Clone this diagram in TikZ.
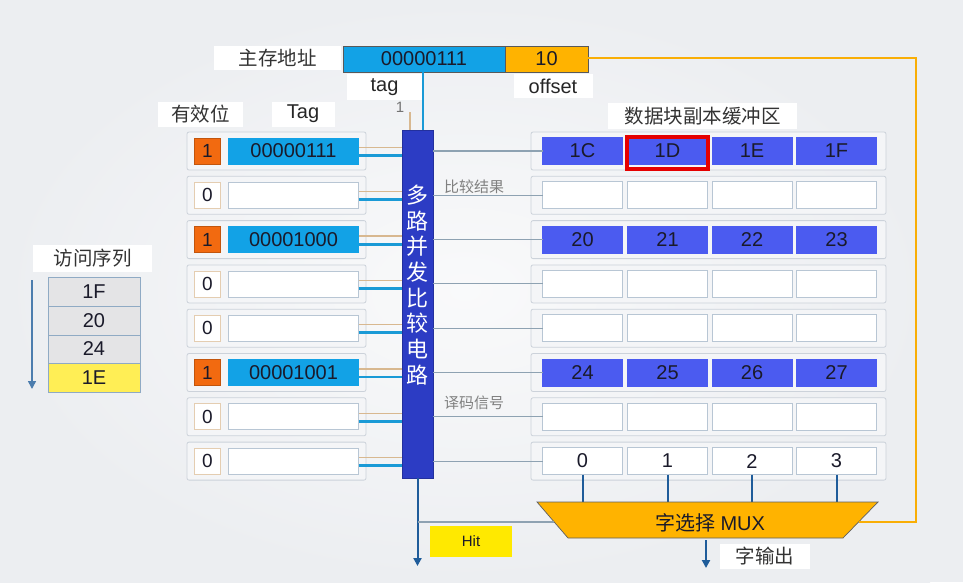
\documentclass[tikz,border=0pt]{standalone}
\usepackage{fontspec}
\setmainfont{Liberation Sans}
\newfontfamily\cjk{Noto Sans CJK SC}
\usetikzlibrary{arrows.meta,calc}
\definecolor{bgc}{HTML}{ECEEF1}
\definecolor{cyanb}{HTML}{12A2E6}
\definecolor{orangeA}{HTML}{FFB300}
\definecolor{validor}{HTML}{F26A10}
\definecolor{blockb}{HTML}{4B5BF0}
\definecolor{compb}{HTML}{2C3CC4}
\definecolor{wirec}{HTML}{1A9AD6}
\definecolor{tanc}{HTML}{D8B890}
\definecolor{grayw}{HTML}{8EA2B2}
\definecolor{cellb}{HTML}{B8C6D4}
\definecolor{rowfill}{HTML}{F4F5F7}
\definecolor{rowdraw}{HTML}{CCD2DA}
\definecolor{arrowc}{HTML}{1F5C9A}
\definecolor{txt}{HTML}{1A1A2A}
\definecolor{hity}{HTML}{FFE900}
\definecolor{seqy}{HTML}{FFEE55}
\definecolor{seqg}{HTML}{E4E4E6}
\definecolor{seqb}{HTML}{8FAAC4}
\tikzset{
  every node/.style={inner sep=0pt, outer sep=0pt},
  lbl/.style={fill=white, text=black!80, font=\cjk\fontsize{19.5}{19.5}\selectfont},
  lbllat/.style={fill=white, text=black!85, font=\fontsize{20}{20}\selectfont},
  rowbox/.style={rounded corners=2pt, fill=rowfill, draw=rowdraw, line width=0.8pt},
  v1/.style={fill=validor, draw=validor!80!black, line width=0.4pt, minimum width=26pt, minimum height=26pt, text=txt, font=\fontsize{19}{19}\selectfont},
  v0/.style={fill=white, draw=tanc!70, line width=0.8pt, minimum width=26pt, minimum height=26pt, text=txt, font=\fontsize{19}{19}\selectfont},
  t1/.style={fill=cyanb, draw=cyanb, minimum width=130pt, minimum height=26pt, text=txt, font=\fontsize{20}{20}\selectfont},
  t0/.style={fill=white, draw=cellb, line width=0.8pt, minimum width=130pt, minimum height=26pt},
  blk/.style={fill=blockb, draw=blockb, minimum width=80pt, minimum height=27pt, text=txt, font=\fontsize{20}{20}\selectfont},
  wcell/.style={fill=white, draw=cellb, line width=0.8pt, minimum width=80pt, minimum height=27pt, text=txt, font=\fontsize{20}{20}\selectfont},
  tanwire/.style={draw=tanc, line width=1.3pt},
  cyanwire/.style={draw=wirec, line width=2.8pt},
  graywire/.style={draw=grayw, line width=1.1pt},
  darkwire/.style={draw=arrowc, line width=2pt},
  seqcell/.style={fill=seqg, draw=seqb, line width=0.8pt, minimum width=92pt, minimum height=29pt, text=txt, font=\fontsize{20}{20}\selectfont},
  smallgray/.style={text=black!50, font=\cjk\fontsize{15}{15}\selectfont},
}
\begin{document}
\begin{tikzpicture}[x=1pt,y=-1pt]
\useasboundingbox (0,0) rectangle (963,582);
\fill[bgc] (0,0) rectangle (963,582);
\shade[inner color=white!70!bgc, outer color=bgc] (0,0) rectangle (930,582);

% main address
\node[lbl, minimum width=127pt, minimum height=24pt] (mainaddr) at (277.5,58) {主存地址};
\node[fill=cyanb, draw=gray!70!black, line width=0.6pt, minimum width=162pt, minimum height=26pt, text=txt, font=\fontsize{20}{20}\selectfont] (tagf) at (424,59) {00000111};
\node[fill=orangeA, draw=gray!70!black, line width=0.6pt, minimum width=83pt, minimum height=26pt, text=txt, font=\fontsize{20}{20}\selectfont, anchor=west] (offf) at (tagf.east) {10};
\node[lbllat, minimum width=75pt, minimum height=26pt] (taglbl) at (384.5,87) {tag};
\node[lbllat, minimum width=79pt, minimum height=24pt] (offlbl) at (553,86) {offset};

% headers
\node[lbl, minimum width=85pt, minimum height=25pt] (vh) at (200.5,114) {有效位};
\node[lbllat, minimum width=63pt, minimum height=25pt] (th) at (303,114) {Tag};
\node[lbl, minimum width=189pt, minimum height=26pt] (dh) at (702.5,116) {数据块副本缓冲区};

% comparator
\node[fill=compb, draw=compb!80!black, line width=0.6pt, minimum width=31pt, minimum height=348pt] (cmp) at (417.5,304) {};
\node[text=white, align=center, font=\cjk\fontsize{22}{25.7}\selectfont] (cmptxt) at (417.5,285) {多\\路\\并\\发\\比\\较\\电\\路};

% tag wire and "1"
\coordinate (tagdrop) at (423,72);
\draw[cyanwire] (tagdrop) -- (tagdrop |- cmp.north);
\node[text=black!55, font=\fontsize{15}{15}\selectfont] (one) at (400,107) {1};
\coordinate (onetop) at (410,112);
\draw[tanwire] (onetop) -- (onetop |- cmp.north);

% left rows
\foreach \i/\v/\tg in {1/1/00000111,2/0/{},3/1/00001000,4/0/{},5/0/{},6/1/00001001,7/0/{},8/0/{}}{
  \pgfmathsetmacro\yy{151+(\i-1)*44.3}
  \node[rowbox, minimum width=179pt, minimum height=38pt] (lr\i) at (276.5,\yy) {};
  \node[v\v] (v\i) at (207.5,\yy) {\v};
  \node[t\v] (t\i) at (293.5,\yy) {\tg};
  \coordinate (ta\i) at ($(t\i.east)+(0,-3.5)$);
  \coordinate (cy\i) at ($(t\i.east)+(0,4.5)$);
  \draw[tanwire] (ta\i) -- (ta\i -| cmp.west);
  \draw[cyanwire] (cy\i) -- (cy\i -| cmp.west);
  \node[rowbox, minimum width=355pt, minimum height=38pt] (rr\i) at (708.5,\yy) {};
}

% right cells
\foreach \i/\a/\b/\c/\d in {1/1C/1D/1E/1F,3/20/21/22/23,6/24/25/26/27}{
  \pgfmathsetmacro\yy{151+(\i-1)*44.3}
  \node[blk] (c\i-1) at (582.5,\yy) {\a};
  \node[blk] (c\i-2) at (667.5,\yy) {\b};
  \node[blk] (c\i-3) at (752,\yy) {\c};
  \node[blk] (c\i-4) at (836.5,\yy) {\d};
}
\foreach \i/\a/\b/\c/\d in {2/{}/{}/{}/{},4/{}/{}/{}/{},5/{}/{}/{}/{},7/{}/{}/{}/{},8/0/1/2/3}{
  \pgfmathsetmacro\yy{151+(\i-1)*44.3}
  \node[wcell] (c\i-1) at (582.5,\yy) {\a};
  \node[wcell] (c\i-2) at (667.5,\yy) {\b};
  \node[wcell] (c\i-3) at (752,\yy) {\c};
  \node[wcell] (c\i-4) at (836.5,\yy) {\d};
}
\foreach \i in {1,...,8}{
  \draw[graywire] (cmp.east |- c\i-1.west) -- (rr\i.west |- c\i-1.west);
  \draw[graywire] (rr\i.west |- c\i-1.west) -- (c\i-1.west);
}
\node[draw=red!90!black, line width=3.6pt, minimum width=81pt, minimum height=32pt] (hl) at (667.5,153) {};

\node[smallgray] (cmpres) at (474,187) {比较结果};
\node[smallgray] (decsig) at (474,403) {译码信号};

% MUX
\coordinate (mtl) at (537,502);
\coordinate (mtr) at (878,502);
\coordinate (mbr) at (843,538);
\coordinate (mbl) at (568,538);
\coordinate (muxL) at (554,522);
\coordinate (muxR) at (858.5,522);
\foreach \k in {1,...,4}{
  \draw[darkwire] (c8-\k.south) -- (c8-\k.south |- mtl);
}
\draw[fill=orangeA, draw=gray!75!black, line width=0.7pt] (mtl) -- (mtr) -- (mbr) -- (mbl) -- cycle;
\node[text=txt, font=\fontsize{20}{20}\selectfont] (mux) at (710,523) {{\cjk 字选择} MUX};

% offset wire
\coordinate (ow1) at (916,58);
\coordinate (ow2) at (916,522);
\draw[draw=orangeA!90!brown, line width=2pt] (offf.east |- ow1) -- (ow1) -- (ow2) -- (muxR);

% hit
\coordinate (hitend) at (417.5,566);
\coordinate (hj) at (417.5,522);
\draw[darkwire, -{Triangle[length=8pt,width=8pt]}] (cmp.south) -- (hitend);
\draw[graywire] (hj) -- (muxL);
\node[fill=hity, minimum width=82pt, minimum height=31pt, text=txt, font=\fontsize{15}{15}\selectfont] (hit) at (471,541) {Hit};

% output
\coordinate (outtop) at (706,540);
\coordinate (outend) at (706,568);
\draw[darkwire, -{Triangle[length=8pt,width=8pt]}] (outtop) -- (outend);
\node[lbl, minimum width=90pt, minimum height=25pt] (outlbl) at (765,556) {字输出};

% access sequence
\node[lbl, minimum width=119pt, minimum height=27pt] (seqh) at (92.5,258) {访问序列};
\node[seqcell] (s1) at (94,291.5) {1F};
\node[seqcell, anchor=north] (s2) at (s1.south) {20};
\node[seqcell, anchor=north, minimum height=28pt] (s3) at (s2.south) {\raisebox{-4pt}{24}};
\node[seqcell, anchor=north, fill=seqy] (s4) at (s3.south) {1E};
\coordinate (sa1) at (32,280);
\coordinate (sa2) at (32,389);
\draw[draw=arrowc!80, line width=1.6pt, -{Triangle[length=8pt,width=8pt]}] (sa1) -- (sa2);
\end{tikzpicture}
\end{document}
